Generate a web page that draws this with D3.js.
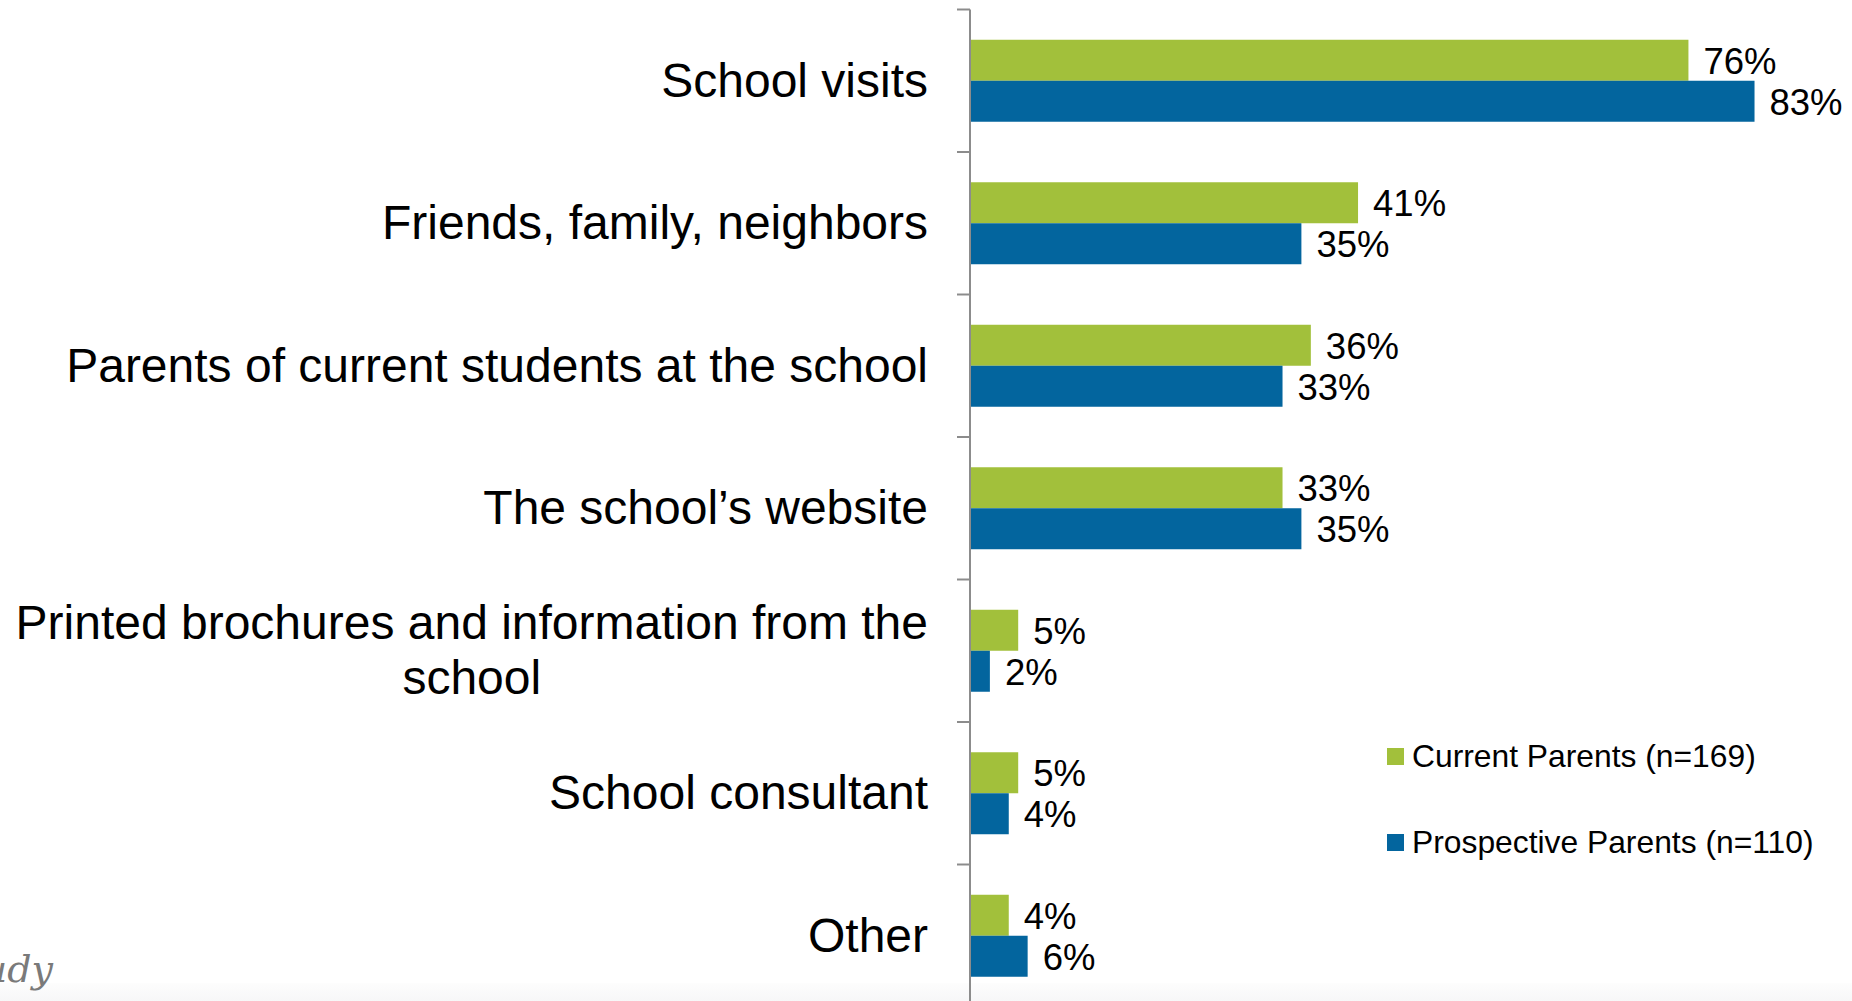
<!DOCTYPE html>
<html>
<head>
<meta charset="utf-8">
<script src="https://cdn.jsdelivr.net/npm/d3@7"></script>
<style>
  html, body { margin: 0; padding: 0; background: #ffffff; }
  svg { display: block; }
  text { font-family: "Liberation Sans", Arial, Helvetica, sans-serif; }
  text.note { font-family: "DejaVu Serif", "Liberation Serif", serif; font-style: italic; }
</style>
</head>
<body>
<svg id="chart" width="1852" height="1001"></svg>
<script>
// Sources used when choosing a school, by parent group (percent)
const categories = [
  "School visits",
  "Friends, family, neighbors",
  "Parents of current students at the school",
  "The school’s website",
  "Printed brochures and information from the school",
  "School consultant",
  "Other"
];
const currentParents = [76, 41, 36, 33, 5, 5, 4];
const prospectiveParents = [83, 35, 33, 35, 2, 4, 6];
const seriesKeys = ["current", "prospective"];
const seriesNames = ["Current Parents (n=169)", "Prospective Parents (n=110)"];
const seriesColors = ["#a2c03b", "#03659e"];

const rows = categories.map((c, i) => ({
  category: c,
  current: currentParents[i],
  prospective: prospectiveParents[i]
}));

const W = 1852, H = 1001;
const axisX = 970;
const svg = d3.select("#chart");

// faint grey strip along the bottom edge
const grad = svg.append("defs").append("linearGradient")
  .attr("id", "bottomFade").attr("x1", 0).attr("x2", 0).attr("y1", 0).attr("y2", 1);
grad.append("stop").attr("offset", "0%").attr("stop-color", "#fdfdfd");
grad.append("stop").attr("offset", "100%").attr("stop-color", "#f7f7f8");
svg.append("rect")
  .attr("x", 0).attr("y", 983).attr("width", W).attr("height", H - 983)
  .attr("fill", "url(#bottomFade)");

const y = d3.scaleBand()
  .domain(categories)
  .range([9.5, 1007])
  .paddingInner(0)
  .paddingOuter(0);

const ySub = d3.scaleBand()
  .domain(seriesKeys)
  .range([0, y.bandwidth()])
  .paddingInner(0)
  .paddingOuter(0.738);

const x = d3.scaleLinear()
  .domain([0, 100])
  .range([axisX + 1, axisX + 1 + 944]);

const color = d3.scaleOrdinal().domain(seriesKeys).range(seriesColors);

// bars
const groups = svg.append("g").selectAll("g")
  .data(rows)
  .join("g")
  .attr("transform", d => `translate(0,${y(d.category)})`);

groups.selectAll("rect")
  .data(d => seriesKeys.map(k => ({ key: k, value: d[k] })))
  .join("rect")
  .attr("x", x(0))
  .attr("y", d => ySub(d.key))
  .attr("width", d => x(d.value) - x(0))
  .attr("height", ySub.bandwidth())
  .attr("fill", d => color(d.key));

// value labels
groups.selectAll("text.value")
  .data(d => seriesKeys.map(k => ({ key: k, value: d[k] })))
  .join("text")
  .attr("class", "value")
  .attr("x", d => x(d.value) + 15)
  .attr("y", d => ySub(d.key) + ySub.bandwidth() / 2)
  .attr("dy", "0.37em")
  .attr("font-size", 36.5)
  .attr("fill", "#000")
  .text(d => d.value + "%");

// axis line with ticks on the category boundaries
const axisG = svg.append("g").attr("stroke", "#8c8c8c").attr("stroke-width", 2);
axisG.append("line")
  .attr("x1", axisX).attr("x2", axisX)
  .attr("y1", y.range()[0]).attr("y2", y.range()[1]);
const tickYs = categories.map(c => y(c)).concat([y.range()[1]]);
axisG.selectAll("line.tick")
  .data(tickYs)
  .join("line")
  .attr("class", "tick")
  .attr("x1", axisX - 13).attr("x2", axisX)
  .attr("y1", d => d).attr("y2", d => d);

// category labels, wrapped and right-aligned as a block
const labelRight = 928;
const labelSize = 48;
const lineGap = 55.5;
const maxLabelWidth = 920;
const measure = svg.append("text").attr("font-size", labelSize).attr("visibility", "hidden");
function textWidth(s) { measure.text(s); return measure.node().getComputedTextLength(); }

categories.forEach(cat => {
  const words = cat.split(" ");
  const lines = [];
  let line = "";
  words.forEach(w => {
    const trial = line ? line + " " + w : w;
    if (line && textWidth(trial) > maxLabelWidth) { lines.push(line); line = w; }
    else line = trial;
  });
  lines.push(line);
  const widths = lines.map(textWidth);
  const blockW = d3.max(widths);
  const cx = labelRight - blockW / 2;
  const cy = y(cat) + y.bandwidth() / 2;
  const t = svg.append("text")
    .attr("font-size", labelSize)
    .attr("fill", "#000")
    .attr("text-anchor", "middle");
  lines.forEach((l, i) => {
    t.append("tspan")
      .attr("x", cx)
      .attr("y", cy + (i - (lines.length - 1) / 2) * lineGap)
      .attr("dy", "0.33em")
      .text(l);
  });
});
measure.remove();

// legend
const legend = svg.append("g").attr("transform", "translate(1387,748)");
seriesKeys.forEach((k, i) => {
  const g = legend.append("g").attr("transform", `translate(0,${i * 86})`);
  g.append("rect").attr("width", 17).attr("height", 17).attr("fill", color(k));
  g.append("text")
    .attr("x", 25).attr("y", 19)
    .attr("font-size", 31.8)
    .attr("fill", "#000")
    .text(seriesNames[i]);
});

// source note at the lower left edge
svg.append("text")
  .attr("class", "note")
  .attr("x", 53).attr("y", 982)
  .attr("text-anchor", "end")
  .attr("font-size", 38)
  .attr("fill", "#7a7a7a")
  .text("Study");
</script>
</body>
</html>
